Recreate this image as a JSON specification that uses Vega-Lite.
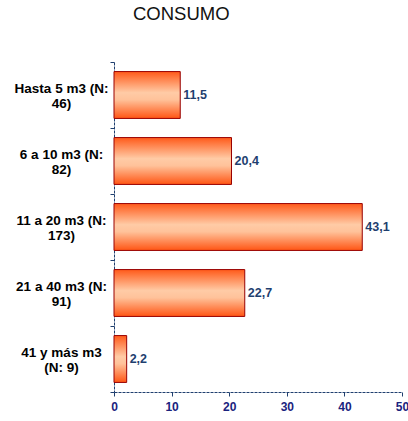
{
  "$schema": "https://vega.github.io/schema/vega-lite/v6.json",
  "width": 288,
  "height": 330,
  "autosize": {"type": "none"},
  "padding": {"left": 114, "top": 62, "right": 6, "bottom": 29},
  "background": "white",
  "config": {
    "view": {"stroke": null},
    "font": "Liberation Sans",
    "locale": {"number": {"decimal": ",", "thousands": ".", "grouping": [3], "currency": ["", " €"]}}
  },
  "title": {
    "text": "CONSUMO",
    "anchor": "start",
    "frame": "group",
    "dx": 19,
    "offset": 32,
    "fontSize": 18.5,
    "fontWeight": "normal",
    "font": "Liberation Sans",
    "color": "#111111"
  },
  "data": {
    "values": [
      {"categoria": "Hasta 5 m3 (N:|46)", "porcentaje": 11.5},
      {"categoria": "6 a 10 m3 (N:|82)", "porcentaje": 20.4},
      {"categoria": "11 a 20 m3 (N:|173)", "porcentaje": 43.1},
      {"categoria": "21 a 40 m3 (N:|91)", "porcentaje": 22.7},
      {"categoria": "41 y más m3|(N: 9)", "porcentaje": 2.2}
    ]
  },
  "encoding": {
    "y": {
      "field": "categoria",
      "type": "nominal",
      "sort": null,
      "scale": {"paddingInner": 0, "paddingOuter": 0},
      "axis": {
        "title": null,
        "labelExpr": "split(datum.label, '|')",
        "labelAlign": "center",
        "labelPadding": 49,
        "labelOffset": -7,
        "labelFontWeight": "bold",
        "labelFontSize": 13.5,
        "labelColor": "#000000",
        "labelLineHeight": 15,
        "ticks": true,
        "tickBand": "extent",
        "tickSize": 4,
        "tickWidth": 1,
        "tickColor": "#1f3f6f",
        "domainColor": "#1f3f6f",
        "domainDash": [3, 1],
        "labelLimit": 200
      }
    },
    "x": {
      "field": "porcentaje",
      "type": "quantitative",
      "scale": {"domain": [0, 50], "nice": false},
      "axis": {
        "title": null,
        "values": [0, 10, 20, 30, 40, 50],
        "grid": false,
        "labelFontWeight": "bold",
        "labelFontSize": 12,
        "labelColor": "#1a237e",
        "labelPadding": 5,
        "tickSize": 4,
        "tickColor": "#1f3f6f",
        "domainColor": "#1f3f6f",
        "domainDash": [3, 1],
        "labelFlush": false
      }
    }
  },
  "layer": [
    {
      "mark": {
        "type": "bar",
        "height": {"band": 0.71},
        "stroke": "#990000",
        "strokeWidth": 1,
        "color": {
          "gradient": "linear",
          "x1": 0, "y1": 0, "x2": 0, "y2": 1,
          "stops": [
            {"offset": 0, "color": "#ff5a1a"},
            {"offset": 0.45, "color": "#ffcba6"},
            {"offset": 0.6, "color": "#ffc29a"},
            {"offset": 1, "color": "#ff5514"}
          ]
        }
      }
    },
    {
      "mark": {
        "type": "text",
        "align": "left",
        "baseline": "middle",
        "dx": 3,
        "fontWeight": "bold",
        "fontSize": 12.5,
        "color": "#1f3f6f"
      },
      "encoding": {
        "text": {"field": "porcentaje", "type": "quantitative", "format": ".1f"}
      }
    }
  ]
}
